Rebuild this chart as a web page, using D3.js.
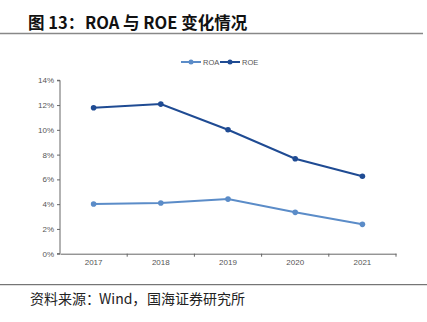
<!DOCTYPE html>
<html><head><meta charset="utf-8">
<script src="https://cdn.jsdelivr.net/npm/d3@7"></script>
<style>body{margin:0;background:#fff;} svg{display:block;}</style>
</head><body>
<svg id="c" width="427" height="322"></svg>
<script>
const categories = ["2017","2018","2019","2020","2021"];
const roa = [4.01, 4.09, 4.41, 3.34, 2.37];
const roe = [11.78, 12.08, 10.01, 7.67, 6.25];
const yTicks = [0,2,4,6,8,10,12,14];
const seriesNames = ["ROA","ROE"];
const colors = ["#5b8cc8","#1f4b93"];

const svg = d3.select("#c");
const font = "'Liberation Sans', Arial, sans-serif";
const cjk = "'Noto Sans CJK SC', sans-serif";

// title
const t = svg.append("text").attr("y",29)
  .attr("font-family", cjk).attr("font-weight","bold").attr("font-size",16.5).attr("fill","#111");
t.append("tspan").attr("x",28).text("图 13：");
t.append("tspan").attr("x",85).text("ROA 与 ROE 变化情况");
svg.append("line").attr("x1",0).attr("x2",423).attr("y1",33.5).attr("y2",33.5)
  .attr("stroke","#888").attr("stroke-width",1.5);

const x = d3.scaleBand().domain(categories).range([60,396]);
const y = d3.scaleLinear().domain([0,14]).range([253.7,80.3]);

// y axis
const ya = svg.append("g").attr("transform","translate(60,0)")
  .call(d3.axisLeft(y).tickValues(yTicks).tickFormat(d=>d+"%").tickSize(3));
ya.select(".domain").attr("stroke","#666").attr("d","M-3,80.3H0V253.7H-3");
ya.selectAll(".tick line").attr("stroke","#666");
ya.selectAll("text").attr("font-family",font).attr("font-size",8).attr("fill","#555").attr("x",-6);

// x axis
const xa = svg.append("g").attr("transform","translate(0,253.7)")
  .call(d3.axisBottom(x).tickSize(0));
xa.select(".domain").attr("stroke","#666");
xa.selectAll("text").attr("font-family",font).attr("font-size",8).attr("fill","#555").attr("dy","1.1em");
xa.selectAll(".bt").data(categories.slice(1).concat(["__end"])).enter().append("line")
  .attr("x1",d=> d==="__end"? 396 : x(d)).attr("x2",d=> d==="__end"? 396 : x(d))
  .attr("y1",0).attr("y2",3).attr("stroke","#666");

const line = d3.line().x((d,i)=>x(categories[i])+x.bandwidth()/2).y(d=>y(d));
[roa, roe].forEach((vals,k)=>{
  svg.append("path").datum(vals).attr("d",line).attr("fill","none")
    .attr("stroke",colors[k]).attr("stroke-width",2);
  svg.selectAll(".pt"+k).data(vals).enter().append("circle")
    .attr("cx",(d,i)=>x(categories[i])+x.bandwidth()/2).attr("cy",d=>y(d))
    .attr("r",2.8).attr("fill",colors[k]);
});

// legend
const lx = [181, 220];
seriesNames.forEach((n,k)=>{
  const g = svg.append("g");
  g.append("line").attr("x1",lx[k]).attr("x2",lx[k]+20).attr("y1",62).attr("y2",62)
    .attr("stroke",colors[k]).attr("stroke-width",2);
  g.append("circle").attr("cx",lx[k]+10).attr("cy",62).attr("r",2.5).attr("fill",colors[k]);
  g.append("text").attr("x",lx[k]+22).attr("y",64.8).attr("font-family",font).attr("font-size",7.5)
    .attr("fill","#555").text(n);
});

// source
svg.append("line").attr("x1",0).attr("x2",427).attr("y1",284.7).attr("y2",284.7)
  .attr("stroke","#555").attr("stroke-width",1);
const s = svg.append("text").attr("y",304).attr("font-family",cjk).attr("font-size",14)
  .attr("fill","#222");
s.append("tspan").attr("x",30).text("资料来源：");
s.append("tspan").attr("x",99).text("Wind，");
s.append("tspan").attr("x",147).text("国海证券研究所");
</script>
</body></html>
